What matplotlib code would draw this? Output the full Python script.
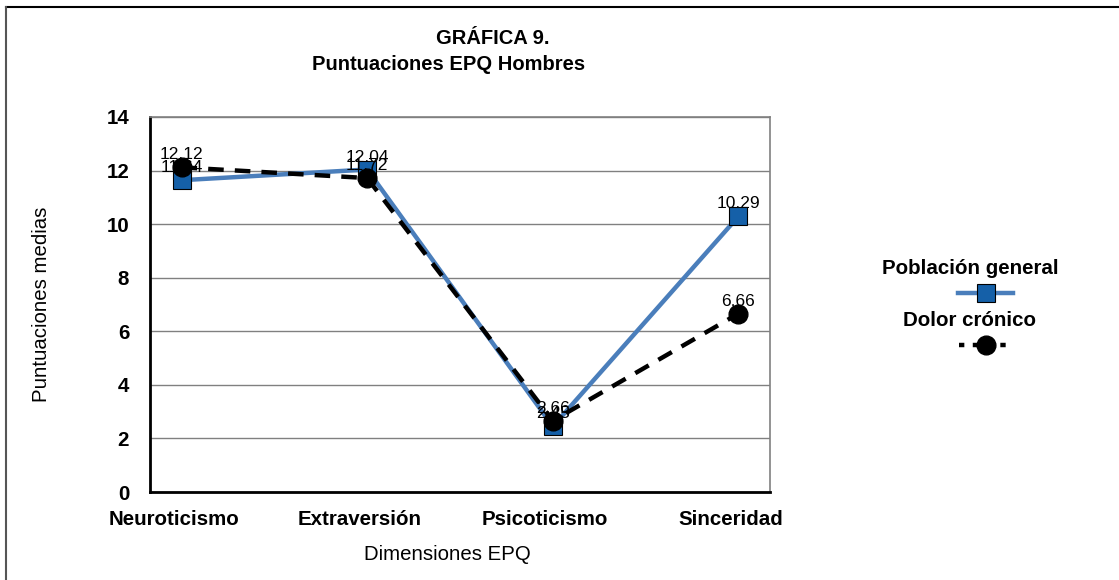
import matplotlib
matplotlib.use("Agg")
import matplotlib.pyplot as plt
from matplotlib.lines import Line2D
from matplotlib.transforms import ScaledTranslation

plt.rcParams['font.family'] = ['Liberation Sans', 'DejaVu Sans']

categories = ['Neuroticismo', 'Extraversión', 'Psicoticismo', 'Sinceridad']
poblacion_general = [11.64, 12.04, 2.45, 10.29]
dolor_cronico = [12.12, 11.72, 2.66, 6.66]
pg_labels = ['11.64', '12.04', '2.45', '10.29']
dc_labels = ['12.12', '11.72', '2.66', '6.66']
y_ticks = [0, 2, 4, 6, 8, 10, 12, 14]

blue_line = '#4A7EBB'
blue_face = '#1560A8'

fig = plt.figure(figsize=(11.19, 5.80), dpi=100)
ax = fig.add_axes([150 / 1119, 88 / 580, 620 / 1119, 375 / 580])

x = list(range(len(categories)))

ax.plot(x, poblacion_general, color=blue_line, lw=3.2, marker='s', markersize=13.5,
        markerfacecolor=blue_face, markeredgecolor='black', markeredgewidth=0.8, zorder=3)
for xi, yi, lab in zip(x, poblacion_general, pg_labels):
    ax.annotate(lab, (xi, yi), xytext=(0, 9), textcoords='offset points',
                ha='center', va='center', fontsize=12.5, zorder=4)

ax.plot(x, dolor_cronico, color='black', lw=3.2, linestyle=(0, (3.5, 2.5)), marker='o',
        markersize=13.5, markerfacecolor='black', markeredgecolor='black', zorder=5)
for xi, yi, lab in zip(x, dolor_cronico, dc_labels):
    ax.annotate(lab, (xi, yi), xytext=(0, 9), textcoords='offset points',
                ha='center', va='center', fontsize=12.5, zorder=6)

ax.set_xlim(-0.17, 3.17)
ax.set_ylim(0, 14)
ax.set_yticks(y_ticks)
ax.set_xticks(x)
ax.set_xticklabels(categories, fontweight='bold', fontsize=14.8)
ax.set_yticklabels([str(v) for v in y_ticks], fontweight='bold', fontsize=14.8)
ax.tick_params(axis='both', length=0)
ax.tick_params(axis='y', pad=15)
ax.tick_params(axis='x', pad=13)
# category labels sit a little left of the points in the original
shift = ScaledTranslation(-8 / 100, 0, fig.dpi_scale_trans)
for lbl in ax.get_xticklabels():
    lbl.set_transform(lbl.get_transform() + shift)
ax.grid(axis='y', color='#808080', lw=1)
ax.set_axisbelow(True)

for side in ['top', 'right']:
    ax.spines[side].set_color('#808080')
    ax.spines[side].set_linewidth(1.2)
for side in ['left', 'bottom']:
    ax.spines[side].set_color('black')
    ax.spines[side].set_linewidth(2)

ax.set_xlabel('Dimensiones EPQ', fontsize=14.7, va='center')
ax.xaxis.set_label_coords(0.479, -0.168)
ax.set_ylabel('Puntuaciones medias', fontsize=14.7, labelpad=40)

fig.text(493 / 1119, 1 - 38 / 580, 'GRÁFICA 9.', ha='center', va='center',
         fontsize=14.5, fontweight='bold')
fig.text(449 / 1119, 1 - 64 / 580, 'Puntuaciones EPQ Hombres', ha='center', va='center',
         fontsize=14.5, fontweight='bold')

# legend drawn by hand: text above symbol
fig.text(970 / 1119, 1 - 268 / 580, 'Población general', ha='center', va='center',
         fontsize=14.8, fontweight='bold')
fig.add_artist(Line2D([958 / 1119, 1013 / 1119], [1 - 293 / 580, 1 - 293 / 580],
                      color=blue_line, lw=3.2, transform=fig.transFigure))
fig.add_artist(Line2D([985.5 / 1119], [1 - 293 / 580], color=blue_line, marker='s',
                      markersize=13.5, markerfacecolor=blue_face, markeredgecolor='black',
                      markeredgewidth=0.8, transform=fig.transFigure))
fig.text(970 / 1119, 1 - 320 / 580, 'Dolor crónico', ha='center', va='center',
         fontsize=14.8, fontweight='bold')
fig.add_artist(Line2D([959 / 1119, 1010 / 1119], [1 - 345 / 580, 1 - 345 / 580],
                      color='black', lw=3.2, linestyle=(0, (1.2, 1.9)),
                      transform=fig.transFigure))
fig.add_artist(Line2D([985.5 / 1119], [1 - 345 / 580], color='black', marker='o',
                      markersize=13.5, transform=fig.transFigure))

# outer chart border (top and left edges visible)
fig.add_artist(Line2D([6 / 1119, 1], [1 - 7 / 580, 1 - 7 / 580], color='black', lw=1.5,
                      transform=fig.transFigure))
fig.add_artist(Line2D([6 / 1119, 6 / 1119], [0, 1 - 7 / 580], color='#555555', lw=1.5,
                      transform=fig.transFigure))

fig.savefig('out.png', dpi=100)
